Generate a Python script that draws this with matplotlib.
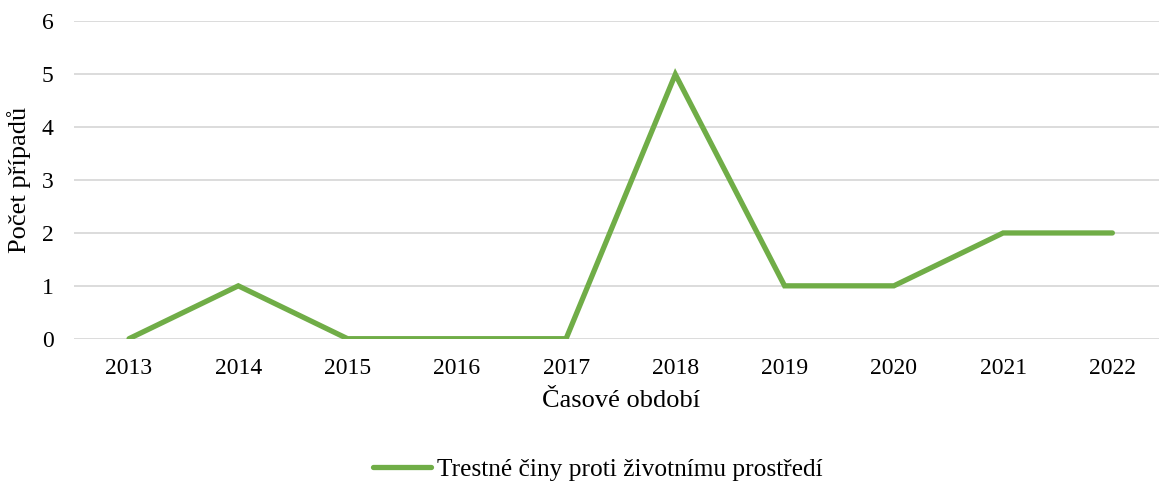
import matplotlib.pyplot as plt

years = ['2013', '2014', '2015', '2016', '2017', '2018', '2019', '2020', '2021', '2022']
cases = [0, 1, 0, 0, 0, 5, 1, 1, 2, 2]
series_name = 'Trestné činy proti životnímu prostředí'

plt.rcParams['font.family'] = ['Liberation Serif', 'DejaVu Serif']

fig = plt.figure(figsize=(11.59, 4.84), dpi=100)
ax = fig.add_axes([0.0642, 0.3002, 0.9427, 0.6554])

x = range(len(years))
ax.plot(x, cases, color='#70AD47', lw=3.8, solid_capstyle='round',
        solid_joinstyle='miter', label=series_name, zorder=3)

ax.set_xlim(-0.5, len(years) - 0.5)
ax.set_ylim(0, 6)
ax.set_xticks(list(x))
ax.set_xticklabels(years)
ax.set_yticks(range(7))
ax.tick_params(axis='both', length=0, labelsize=17)
ax.tick_params(axis='x', pad=14)
ax.tick_params(axis='y', pad=15)
ax.yaxis.grid(True, color='#D9D9D9', lw=1.3)
ax.set_axisbelow(True)
for s in ax.spines.values():
    s.set_visible(False)

ax.set_xlabel('Časové období', fontsize=19, labelpad=8)
ax.set_ylabel('Počet případů', fontsize=19, labelpad=8)

fig.legend(loc='center', bbox_to_anchor=(0.516, 0.029), frameon=False,
           fontsize=18.3, handlelength=2.25, handletextpad=0.25)

fig.savefig('out.png', dpi=100)
